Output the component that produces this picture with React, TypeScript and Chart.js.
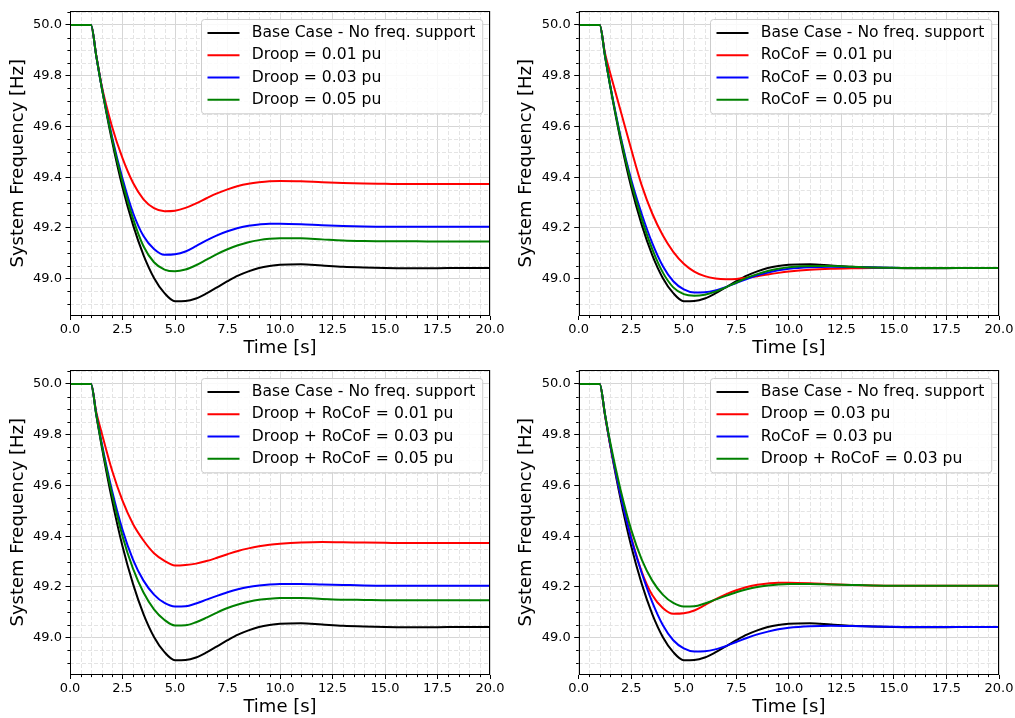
import React, { useEffect, useRef } from "react";
import { Chart, registerables } from "chart.js";

Chart.register(...registerables);
Chart.defaults.font.family = "'DejaVu Sans', sans-serif";
Chart.defaults.color = "#000";

// ---------- data ----------
const timeS = [0, 1, 1.25, 1.5, 2, 2.5, 3, 3.5, 4, 4.5, 5, 5.5, 6, 6.5, 7, 7.5, 8, 8.5, 9, 9.5, 10, 11, 12, 13, 14, 15, 16, 17, 18, 20];

const baseCase = [50, 50, 49.878, 49.758, 49.543, 49.36, 49.212, 49.093, 49.003, 48.943, 48.911, 48.912, 48.922, 48.942, 48.966, 48.99, 49.012, 49.029, 49.042, 49.05, 49.055, 49.057, 49.052, 49.047, 49.044, 49.042, 49.041, 49.041, 49.042, 49.042];

const droop001 = [50, 50, 49.88, 49.765, 49.6, 49.475, 49.378, 49.313, 49.278, 49.266, 49.268, 49.279, 49.297, 49.317, 49.336, 49.352, 49.365, 49.374, 49.38, 49.384, 49.385, 49.384, 49.38, 49.377, 49.375, 49.374, 49.373, 49.373, 49.373, 49.373];
const droop003 = [50, 50, 49.878, 49.76, 49.56, 49.395, 49.26, 49.168, 49.117, 49.094, 49.096, 49.107, 49.128, 49.151, 49.171, 49.187, 49.2, 49.209, 49.214, 49.217, 49.217, 49.215, 49.211, 49.208, 49.206, 49.205, 49.205, 49.205, 49.205, 49.205];
const droop005 = [50, 50, 49.878, 49.758, 49.553, 49.38, 49.237, 49.128, 49.065, 49.036, 49.029, 49.036, 49.053, 49.075, 49.097, 49.116, 49.132, 49.144, 49.152, 49.157, 49.159, 49.159, 49.155, 49.151, 49.149, 49.148, 49.148, 49.147, 49.147, 49.147];

const rocof001 = [50, 50, 49.89, 49.81, 49.66, 49.51, 49.368, 49.257, 49.171, 49.106, 49.059, 49.028, 49.01, 49.001, 48.998, 48.999, 49.004, 49.01, 49.017, 49.023, 49.028, 49.035, 49.039, 49.041, 49.042, 49.042, 49.042, 49.042, 49.042, 49.042];
const rocof003 = [50, 50, 49.88, 49.762, 49.558, 49.39, 49.255, 49.14, 49.05, 48.99, 48.958, 48.946, 48.947, 48.954, 48.967, 48.983, 48.999, 49.013, 49.024, 49.033, 49.039, 49.045, 49.047, 49.046, 49.044, 49.043, 49.042, 49.042, 49.042, 49.042];
const rocof005 = [50, 50, 49.879, 49.76, 49.552, 49.378, 49.235, 49.117, 49.025, 48.966, 48.939, 48.933, 48.937, 48.949, 48.966, 48.985, 49.003, 49.018, 49.03, 49.039, 49.045, 49.05, 49.05, 49.047, 49.044, 49.043, 49.042, 49.042, 49.042, 49.042];

const combo001 = [50, 50, 49.89, 49.81, 49.66, 49.54, 49.448, 49.383, 49.333, 49.303, 49.285, 49.287, 49.292, 49.302, 49.315, 49.329, 49.342, 49.352, 49.36, 49.366, 49.37, 49.375, 49.377, 49.376, 49.375, 49.374, 49.373, 49.373, 49.373, 49.373];
const combo003 = [50, 50, 49.882, 49.77, 49.58, 49.425, 49.308, 49.225, 49.17, 49.137, 49.123, 49.124, 49.135, 49.15, 49.165, 49.179, 49.191, 49.2, 49.206, 49.21, 49.212, 49.212, 49.21, 49.208, 49.206, 49.205, 49.205, 49.205, 49.205, 49.205];
const combo005 = [50, 50, 49.88, 49.765, 49.566, 49.4, 49.272, 49.178, 49.112, 49.07, 49.048, 49.049, 49.061, 49.079, 49.099, 49.117, 49.131, 49.142, 49.15, 49.154, 49.156, 49.156, 49.153, 49.15, 49.149, 49.148, 49.148, 49.148, 49.148, 49.148];

const labelsDroop = ["Base Case - No freq. support", "Droop = 0.01 pu", "Droop = 0.03 pu", "Droop = 0.05 pu"];
const labelsRocof = ["Base Case - No freq. support", "RoCoF = 0.01 pu", "RoCoF = 0.03 pu", "RoCoF = 0.05 pu"];
const labelsCombo = ["Base Case - No freq. support", "Droop + RoCoF = 0.01 pu", "Droop + RoCoF = 0.03 pu", "Droop + RoCoF = 0.05 pu"];
const labelsCompare = ["Base Case - No freq. support", "Droop = 0.03 pu", "RoCoF = 0.03 pu", "Droop + RoCoF = 0.03 pu"];

const xTicks = [0, 2.5, 5, 7.5, 10, 12.5, 15, 17.5, 20];
const yTicks = [49.0, 49.2, 49.4, 49.6, 49.8, 50.0];
const xMinorStep = 0.5;
const yMinorStep = 0.05;
const xMin = 0, xMax = 20;
const yMin = 48.855, yMax = 50.055;

const xTitle = "Time [s]";
const yTitle = "System Frequency [Hz]";

const seriesColors = ["#000000", "#ff0000", "#0000ff", "#008000"];

const panelData = [
  { labels: labelsDroop, series: [baseCase, droop001, droop003, droop005] },
  { labels: labelsRocof, series: [baseCase, rocof001, rocof003, rocof005] },
  { labels: labelsCombo, series: [baseCase, combo001, combo003, combo005] },
  { labels: labelsCompare, series: [baseCase, droop003, rocof003, combo003] },
];

// ---------- layout ----------
const PLOT_TOP = 11;
const PLOT_BOTTOM = 315.5;
const panelBoxes = [
  { left: 0, top: 0, width: 508, height: 359, plotLeft: 70, plotRight: 490 },
  { left: 508, top: 0, width: 507, height: 359, plotLeft: 70.7, plotRight: 491 },
  { left: 0, top: 359, width: 508, height: 359, plotLeft: 70, plotRight: 490 },
  { left: 508, top: 359, width: 507, height: 359, plotLeft: 70.7, plotRight: 491 },
];

function isMajor(v: number, majors: number[]) {
  return majors.some((m) => Math.abs(m - v) < 1e-6);
}

const mplPlugin = {
  id: "mplStyle",
  beforeDatasetsDraw(chart: any) {
    const { ctx, chartArea: ca } = chart;
    const xs = chart.scales.x;
    const ys = chart.scales.y;
    ctx.save();
    // minor grid
    ctx.strokeStyle = "#e4e4e4";
    ctx.lineWidth = 1;
    ctx.setLineDash([4, 2]);
    for (let v = xMin; v <= xMax + 1e-9; v += xMinorStep) {
      if (isMajor(v, xTicks)) continue;
      const p = Math.round(xs.getPixelForValue(v)) + 0.5;
      ctx.beginPath();
      ctx.moveTo(p, ca.top);
      ctx.lineTo(p, ca.bottom);
      ctx.stroke();
    }
    const yStart = Math.ceil(yMin / yMinorStep) * yMinorStep;
    for (let v = yStart; v <= yMax + 1e-9; v += yMinorStep) {
      if (isMajor(v, yTicks)) continue;
      const p = Math.round(ys.getPixelForValue(v)) + 0.5;
      ctx.beginPath();
      ctx.moveTo(ca.left, p);
      ctx.lineTo(ca.right, p);
      ctx.stroke();
    }
    ctx.setLineDash([]);
    // minor ticks
    ctx.strokeStyle = "#000";
    for (let v = xMin; v <= xMax + 1e-9; v += xMinorStep) {
      if (isMajor(v, xTicks)) continue;
      const p = Math.round(xs.getPixelForValue(v)) + 0.5;
      ctx.beginPath();
      ctx.moveTo(p, ca.bottom);
      ctx.lineTo(p, ca.bottom + 2.6);
      ctx.stroke();
    }
    for (let v = yStart; v <= yMax + 1e-9; v += yMinorStep) {
      if (isMajor(v, yTicks)) continue;
      const p = Math.round(ys.getPixelForValue(v)) + 0.5;
      ctx.beginPath();
      ctx.moveTo(ca.left - 2.6, p);
      ctx.lineTo(ca.left, p);
      ctx.stroke();
    }
    ctx.restore();
  },
  afterDatasetsDraw(chart: any) {
    const { ctx, chartArea: ca } = chart;
    ctx.save();
    // spines
    ctx.strokeStyle = "#000";
    ctx.lineWidth = 1;
    const l = Math.round(ca.left) + 0.5;
    const r = Math.round(ca.right) - 0.5;
    const t = Math.round(ca.top) + 0.5;
    const b = Math.round(ca.bottom) - 0.5;
    ctx.strokeRect(l, t, r - l, b - t);

    // legend
    const ds = chart.data.datasets;
    ctx.font = "15.6px 'DejaVu Sans', sans-serif";
    const textW = Math.max(...ds.map((d: any) => ctx.measureText(d.label).width));
    const rowH = 22.3;
    const boxW = 6 + 32 + 12.3 + textW + 7.3;
    const boxH = 13.4 + rowH * (ds.length - 1) + 14;
    const bx = Math.round(ca.right - 8 - boxW) + 0.5;
    const by = Math.round(ca.top + 8) + 0.5;
    ctx.beginPath();
    (ctx as any).roundRect(bx, by, boxW, boxH, 3);
    ctx.fillStyle = "rgba(255,255,255,0.85)";
    ctx.fill();
    ctx.strokeStyle = "#cccccc";
    ctx.stroke();
    ds.forEach((d: any, i: number) => {
      const cy = by + 13.4 + i * rowH;
      ctx.strokeStyle = d.borderColor;
      ctx.lineWidth = 2;
      ctx.beginPath();
      ctx.moveTo(bx + 6, cy);
      ctx.lineTo(bx + 38, cy);
      ctx.stroke();
      ctx.fillStyle = "#000";
      ctx.textBaseline = "middle";
      ctx.textAlign = "left";
      ctx.fillText(d.label, bx + 50.3, cy);
    });
    ctx.restore();
  },
};

function Panel({ idx }: { idx: number }) {
  const ref = useRef<HTMLCanvasElement>(null);
  const box = panelBoxes[idx];
  const pd = panelData[idx];
  useEffect(() => {
    const canvas = ref.current!;
    const datasets = pd.series.map((vals, i) => ({
      label: pd.labels[i],
      data: timeS.map((t, k) => ({ x: t, y: vals[k] })),
      borderColor: seriesColors[i],
      backgroundColor: seriesColors[i],
      borderWidth: 2,
      pointRadius: 0,
      fill: false,
      cubicInterpolationMode: "monotone" as const,
      order: pd.series.length - i,
    }));
    const chart = new Chart(canvas, {
      type: "line",
      data: { datasets },
      plugins: [mplPlugin],
      options: {
        animation: false,
        responsive: false,
        maintainAspectRatio: false,
        devicePixelRatio: 1,
        layout: { padding: { top: PLOT_TOP, right: box.width - box.plotRight, left: 0, bottom: 0 } },
        plugins: { legend: { display: false }, tooltip: { enabled: false } },
        scales: {
          x: {
            type: "linear",
            min: xMin,
            max: xMax,
            afterBuildTicks: (s: any) => {
              s.ticks = xTicks.map((v) => ({ value: v }));
            },
            afterFit: (s: any) => {
              s.height = box.height - PLOT_BOTTOM;
              s.paddingLeft = 0;
              s.paddingRight = 0;
            },
            ticks: {
              autoSkip: false,
              maxRotation: 0,
              minRotation: 0,
              padding: 2,
              color: "#000",
              font: { size: 13 },
              callback: (v: any) => Number(v).toFixed(1),
            },
            grid: { color: "#d6d6d6", lineWidth: 1, tickColor: "#000", tickLength: 4.5, tickWidth: 1 },
            border: { display: false },
            title: { display: true, text: xTitle, color: "#000", font: { size: 18 }, padding: { top: 0, bottom: 0.3 } },
          },
          y: {
            type: "linear",
            min: yMin,
            max: yMax,
            afterBuildTicks: (s: any) => {
              s.ticks = yTicks.map((v) => ({ value: v }));
            },
            afterFit: (s: any) => {
              s.width = box.plotLeft;
              s.paddingTop = 0;
              s.paddingBottom = 0;
            },
            ticks: {
              autoSkip: false,
              padding: 3.5,
              color: "#000",
              font: { size: 13 },
              callback: (v: any) => Number(v).toFixed(1),
            },
            grid: { color: "#d6d6d6", lineWidth: 1, tickColor: "#000", tickLength: 4.5, tickWidth: 1 },
            border: { display: false },
            title: { display: true, text: yTitle, color: "#000", font: { size: 18 }, padding: { top: 7.8, bottom: 0 } },
          },
        },
      } as any,
    });
    return () => chart.destroy();
  }, []);
  return (
    <canvas
      ref={ref}
      width={box.width}
      height={box.height}
      style={{ position: "absolute", left: box.left, top: box.top, width: box.width, height: box.height }}
    />
  );
}

export default function App() {
  return (
    <div style={{ position: "fixed", left: 0, top: 0, width: 1015, height: 718, background: "#fff" }}>
      {panelData.map((_, i) => (
        <Panel key={i} idx={i} />
      ))}
    </div>
  );
}
